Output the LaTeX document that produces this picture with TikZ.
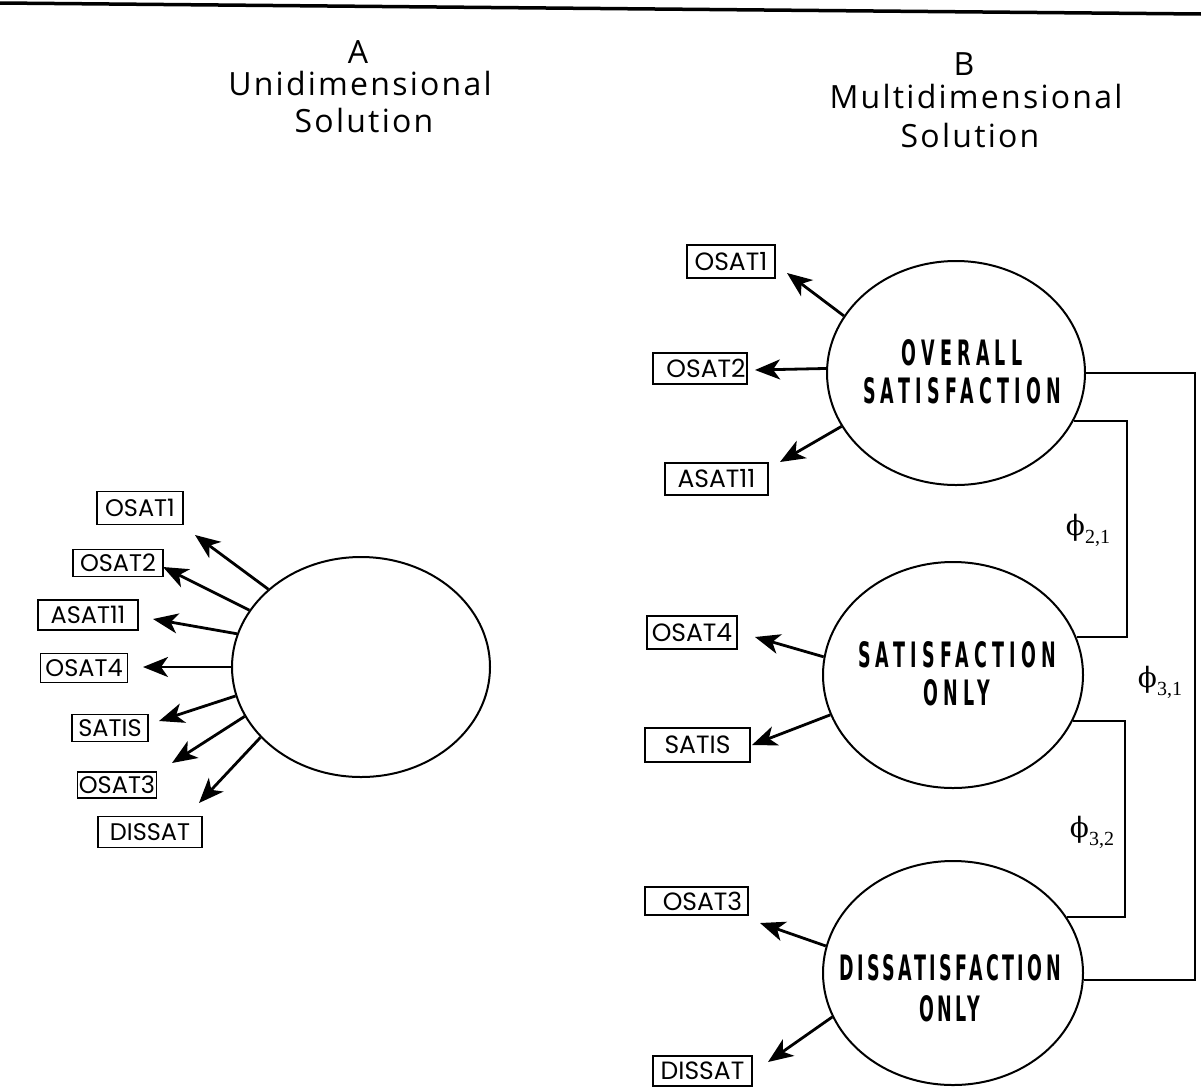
\documentclass[tikz,border=0pt]{standalone}
\usepackage{fontspec}
\usetikzlibrary{arrows.meta,shapes.geometric}
\newfontfamily\boxfont{Poppins}
\newfontfamily\titlefont[LetterSpace=7]{Open Sans}
\newfontfamily\capfont[FakeStretch=0.5,LetterSpace=15]{DejaVu Sans}
\newfontfamily\capfontb[FakeStretch=0.5,LetterSpace=10]{DejaVu Sans}
\newfontfamily\phifont{DejaVu Serif}
\newfontfamily\subfont{Liberation Serif}
\newcommand{\phil}[1]{{\phifont\fontsize{28}{28}\selectfont ϕ\raisebox{-8pt}{\subfont\fontsize{20}{20}\selectfont #1}}}
\tikzset{
  latent/.style={ellipse, draw, line width=2pt, inner sep=0pt},
  indL/.style={draw, line width=1.4pt, inner sep=0pt, font=\boxfont\fontsize{24}{24}\selectfont},
  indR/.style={draw, line width=1.4pt, inner sep=0pt, font=\boxfont\fontsize{25}{25}\selectfont},
  arr/.style={line width=2.8pt, -{Stealth[length=25pt,width=20pt,inset=7pt]}},
  conn/.style={line width=2pt},
  ttl/.style={anchor=base, inner sep=0pt, font=\titlefont\fontsize{32}{32}\selectfont},
  capt/.style={align=center, inner sep=0pt, font=\capfont\bfseries\fontsize{35}{38}\selectfont},
  captb/.style={align=center, inner sep=0pt, font=\capfontb\bfseries\fontsize{35}{41}\selectfont},
  philab/.style={inner sep=0pt}
}
\begin{document}
\begin{tikzpicture}[x=1pt,y=-1pt]
\useasboundingbox (0,0) rectangle (1201,1087);
% top rule
\coordinate (rl) at (0,3);
\coordinate (rr) at (1201,14);
\draw[line width=3.5pt] (rl) -- (rr);
% titles
\node[ttl] (tA)  at (358,63)  {A};
\node[ttl] (tA2) at (360,95)  {Unidimensional};
\node[ttl] (tA3) at (364,132) {Solution};
\node[ttl] (tB)  at (964,75)  {B};
\node[ttl] (tB2) at (976,108) {Multidimensional};
\node[ttl] (tB3) at (970,147) {Solution};

% ===== Panel A =====
\node[latent, minimum width=258pt, minimum height=220pt] (L) at (361,667) {};
\node[indL, minimum width=86pt,  minimum height=33pt] (a1) at (140,508) {OSAT1};
\node[indL, minimum width=90pt,  minimum height=27pt] (a2) at (118,563) {OSAT2};
\node[indL, minimum width=100pt, minimum height=30pt] (a3) at (88,615)  {ASAT11};
\node[indL, minimum width=87pt,  minimum height=29pt] (a4) at (84,668)  {OSAT4};
\node[indL, minimum width=76pt,  minimum height=27pt] (a5) at (110,728) {SATIS};
\node[indL, minimum width=79pt,  minimum height=26pt] (a6) at (117,785) {OSAT3};
\node[indL, minimum width=104pt, minimum height=31pt] (a7) at (150,832) {DISSAT};
\coordinate (ta1) at (195,535);
\coordinate (ta2) at (163,567);
\coordinate (ta3) at (153,619);
\coordinate (ta4) at (143,667);
\coordinate (ta5) at (159,721);
\coordinate (ta6) at (172,763);
\coordinate (ta7) at (199,803);
\draw[arr] (L.140.5) -- (ta1);
\draw[arr] (L.153.2) -- (ta2);
\draw[arr] (L.165.1) -- (ta3);
\draw[arr] (L.180)   -- (ta4);
\draw[arr] (L.193.6) -- (ta5);
\draw[arr] (L.203.9) -- (ta6);
\draw[arr] (L.215.1) -- (ta7);

% ===== Panel B =====
\node[latent, minimum width=258pt, minimum height=224pt] (O) at (956,373) {};
\node[latent, minimum width=260pt, minimum height=226pt] (S) at (953,675) {};
\node[latent, minimum width=260pt, minimum height=224pt] (D) at (953,973) {};
\node[capt]  (Ot) at (962,372) {OVERALL\\SATISFACTION};
\node[capt]  (St) at (957,674) {SATISFACTION\\ONLY};
\node[captb] (Dt) at (950,988) {DISSATISFACTION\\ONLY};

\node[indR, minimum width=88pt,  minimum height=33pt] (b1) at (731,261.5) {OSAT1};
\node[indR, minimum width=94pt,  minimum height=31pt] (b2) at (700,368.5) {\hspace{12pt}OSAT2};
\node[indR, minimum width=103pt, minimum height=32pt] (b3) at (716.5,479) {ASAT11};
\node[indR, minimum width=90pt,  minimum height=33pt] (b4) at (692,632.5) {OSAT4};
\node[indR, minimum width=105pt, minimum height=34pt] (b5) at (697.5,745) {SATIS};
\node[indR, minimum width=103pt, minimum height=28pt] (b6) at (696.5,901) {\hspace{12pt}OSAT3};
\node[indR, minimum width=99pt,  minimum height=30pt] (b7) at (702.5,1071) {DISSAT};
\coordinate (tb1) at (787,273);
\coordinate (tb2) at (755,370);
\coordinate (tb3) at (780,462);
\coordinate (tb4) at (755,637);
\coordinate (tb5) at (752,745);
\coordinate (tb6) at (760,923);
\coordinate (tb7) at (768,1062);
\draw[arr] (O.153.6) -- (tb1);
\draw[arr] (O.178.7) -- (tb2);
\draw[arr] (O.205.8) -- (tb3);
\draw[arr] (S.172)   -- (tb4);
\draw[arr] (S.198.3) -- (tb5);
\draw[arr] (D.168.2) -- (tb6);
\draw[arr] (D.200.6) -- (tb7);

% correlation connectors
\coordinate (v1) at (1127,0);
\coordinate (v2) at (1125,0);
\coordinate (v3) at (1195,0);
\draw[conn] (O.338.4) -- (O.338.4 -| v1) -- (S.17.6 -| v1) -- (S.17.6);
\draw[conn] (S.339.4) -- (S.339.4 -| v2) -- (D.26.2 -| v2) -- (D.26.2);
\draw[conn] (O.east) -- (O.east -| v3) -- (D.357.5 -| v3) -- (D.357.5);
\node[philab] (p21) at (1088,530) {\phil{2,1}};
\node[philab] (p31) at (1160,682) {\phil{3,1}};
\node[philab] (p32) at (1092,832) {\phil{3,2}};
\end{tikzpicture}
\end{document}
